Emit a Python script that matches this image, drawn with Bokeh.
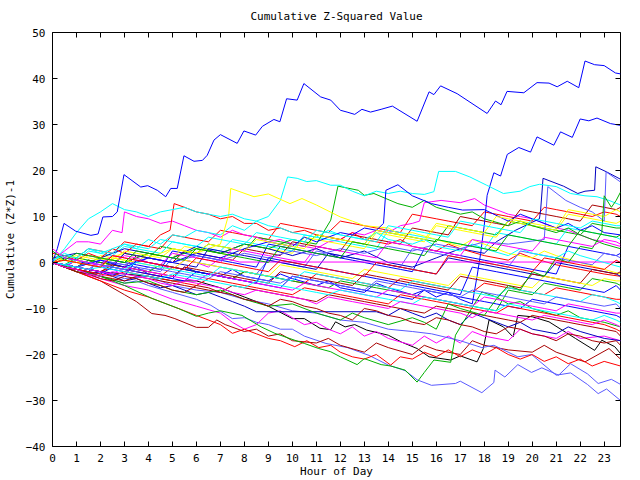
from bokeh.plotting import figure
from bokeh.models import Range1d, FixedTicker, LinearAxis, CustomJSTickFormatter
from bokeh.embed import file_html
from bokeh.resources import INLINE

TITLE = "Cumulative Z-Squared Value"
X_LABEL = "Hour of Day"
Y_LABEL = "Cumulative (Z*Z)-1"
X_TICKS = list(range(24))
Y_TICKS = list(range(-40, 51, 10))
X_END = 23.68

RED = "#ff0000"
GREEN = "#00b000"
BLUE = "#0000ff"
MAG = "#ff00ff"
CYAN = "#00ffff"
DRED = "#a80000"
YEL = "#ffff00"
BLACK = "#000000"
LBLUE = "#5a5aff"
DBLUE = "#0000c0"

# ---- individually traced series: (hour, value) vertices ----
line_a = [(0, 0), (0.2, 3), (0.48, 8.5), (0.97, 6.8), (1.6, 5.9), (1.9, 6.2), (2.1, 9.9), (2.5, 10), (2.7, 11),
          (2.98, 19.1), (3.68, 16.4), (3.97, 16.7), (4.37, 15.7), (4.72, 14.3), (4.93, 16.1), (5.2, 16.1),
          (5.48, 23.2), (5.9, 22.0), (6.25, 22.2), (6.45, 23.3), (6.73, 26.6), (7.0, 27.8), (7.7, 25.9),
          (7.98, 28.6), (8.47, 27.7), (8.75, 29.6), (9.23, 31.1), (9.48, 30.6), (9.76, 35.6), (10.2, 35.3),
          (10.48, 38.9), (11.18, 36.0), (11.6, 35.3), (12.0, 33.1), (12.28, 32.7), (12.6, 32.2), (12.9, 33.3),
          (13.26, 32.7), (13.7, 33.3), (14.17, 34.0), (15.2, 30.7), (15.7, 37.1), (15.9, 36.5), (16.18, 38.4),
          (16.87, 36.7), (18.12, 32.4), (18.47, 35.1), (18.7, 34.3), (18.95, 37.2), (19.65, 36.9), (20.2, 39.1),
          (20.7, 39.0), (21.04, 38.2), (21.46, 39.4), (21.94, 38.0), (22.2, 43.8), (22.6, 43.0), (23.0, 42.8),
          (23.47, 41.2), (23.68, 41.0)]
line_b = [(0, 0), (0.5, -1), (1, 0.5), (1.5, -0.5), (2, -1), (3, -2), (3.5, -1), (4, -2.5), (5, -3.5), (5.5, -1),
          (6, -2), (7, -3), (7.5, -1.5), (8, -3), (9, -4), (9.5, -2.5), (10, -3.5), (11, -5), (11.5, -4),
          (12, -5.5), (13, -6.5), (13.5, -4.5), (14, -5.5), (15, -7), (15.5, -6), (16, -7.5), (16.5, -6.5),
          (17, -8), (17.5, -9), (17.7, -3), (17.85, 2), (18.0, 8.1), (18.12, 14.6), (18.4, 19.5), (18.68, 18.8),
          (18.96, 23.5), (19.44, 25.0), (19.93, 24.0), (20.2, 27.3), (20.9, 25.5), (21.18, 28.4), (21.67, 27.2),
          (22.0, 31.2), (22.36, 30.8), (22.7, 31.4), (23.26, 30.2), (23.68, 29.8)]
line_c = [(0, 1), (1, 2), (2, 1), (3, 3), (4, 2), (5, 1), (6, 3.5), (7, 2), (8, 4), (9, 3), (10, 1.5), (11, 3),
          (12, 1), (13, 2.5), (14, 0), (15, -1), (16, 1), (17, 3), (18, 2), (18.5, 4.5), (19.3, 7), (20.3, 9.5),
          (20.35, 11.4), (20.45, 18.3), (21.3, 16.6), (21.9, 15), (22.2, 15.5), (22.6, 15.7), (22.65, 20.8),
          (23.1, 19.7), (23.68, 18.1)]
line_d = [(0, 0), (1, -1), (2, 0.5), (3, -0.5), (4, 1), (5, 0), (6, 1.5), (7, 0.5), (8, 2), (9, 1), (10, 2.5),
          (11, 1.5), (12, 3), (13, 2), (14, 3.5), (15, 2.5), (16, 4), (17, 3), (18, 4.5), (19, 4), (20.5, 5),
          (20.65, 16.5), (21.4, 13.5), (22, 12), (22.5, 11), (23.0, 9), (23.08, 19.7), (23.68, 17.5)]
line_e = [(0, 0.5), (0.5, 2), (1, 1), (1.5, 3), (2, 2), (3, 4), (3.5, 3), (4, 5), (4.5, 4), (5, 6), (5.5, 5.5),
          (6, 7), (7, 6), (7.5, 8), (8, 7), (8.5, 9), (9, 10), (9.5, 13.5), (9.8, 18.6), (10.2, 18.3), (10.6, 17.6),
          (11.0, 17.8), (11.6, 16.8), (12, 16.8), (12.5, 15.5), (13, 14.5), (13.5, 15.5), (14, 15), (14.5, 15.5),
          (15, 15), (15.5, 14.8), (15.9, 15.4), (16.1, 19.8), (16.8, 19.8), (17.4, 18.6), (18.1, 16.8),
          (18.8, 15.0), (19.5, 15.5), (19.9, 16.5), (20.3, 17.0), (21.0, 16.5), (21.6, 15.0), (22.2, 14.5),
          (22.7, 14.3), (23.2, 13.5), (23.68, 12.5)]
line_f = [(0, 0), (0.5, 3), (1, 6.5), (1.5, 9.5), (2, 11), (2.5, 12.8), (3, 11.5), (3.5, 11), (4, 10), (4.5, 11),
          (5, 11.5), (5.5, 12), (6, 11), (6.5, 10.5), (7, 10), (7.5, 10.5), (8, 9.5), (8.5, 9), (9, 8), (9.5, 7.5),
          (10, 6.5), (11, 5.5), (11.5, 7), (12, 6), (13, 5), (13.5, 6.5), (14, 5), (15, 4), (15.5, 5), (16, 3.5),
          (17, 2.5), (17.5, 4), (18, 3), (19, 1.5), (19.5, 3), (20, 2), (21, 1), (21.5, 2.5), (22, 1.5), (23, 0),
          (23.68, -1)]
line_g1 = [(0, 0), (1, -1), (2, 1), (3, 0), (4, 2), (5, 1), (6, 3), (7, 2), (8, 4), (9, 3), (10, 5), (11, 4),
           (11.6, 9.2), (11.9, 16.6), (12.75, 15.7), (13.0, 14.6), (13.4, 15.0), (14.4, 12.8), (15, 12),
           (15.5, 13.5), (16, 12), (17, 10.5), (17.5, 11), (18, 9.5), (19, 8), (19.5, 9), (20, 8), (21, 6.5),
           (21.5, 7.5), (22, 6), (23, 4), (23.68, 3)]
line_g2 = [(0, 0), (1, -2), (2, -3), (3, -4.5), (4, -4), (5, -6), (6, -7), (7, -6), (8, -8), (9, -9.5), (10, -9),
           (11, -11), (12, -12.5), (12.5, -11), (13, -12), (14, -13.5), (15, -12), (15.5, -13), (16, -14.5),
           (16.5, -9), (17, -10), (18, -11.5), (18.5, -8), (19, -5), (19.5, -6), (20, -2), (20.5, -3), (21, 1),
           (21.5, 0), (22, 3.5), (22.5, 3), (22.9, 6.5), (23.0, 14.5), (23.3, 12), (23.5, 13.5), (23.68, 15.3)]
line_y1 = [(0, 0), (1, 1.5), (2, 0.5), (3, 2), (4, 1), (5, 3), (6, 2), (7, 4), (7.35, 10.5), (7.43, 16.1),
           (8.4, 14.3), (9.0, 14.9), (9.9, 12.8), (10.4, 13.9), (11.0, 12.5), (12.0, 9.9), (12.5, 9), (13, 8),
           (14, 7.5), (14.5, 6), (15, 6.5), (16, 5), (17, 3.5), (17.5, 5), (18, 4), (19, 2), (20, 1), (20.5, 2.5),
           (21, 1.5), (22, 0), (23, -1.5), (23.68, -2.5)]
line_h = [(0, 0), (1, -1), (2, 0.5), (3, -1), (4, 1), (5, 0), (6, 2), (7, 1), (8, 3), (9, 4.5), (10, 3.5),
          (10.5, 5.5), (11, 4.5), (12, 6.5), (12.5, 6), (13, 7.5), (13.5, 7), (13.8, 8.5), (13.9, 15.7),
          (14.4, 16.9), (15, 14.5), (15.8, 12.8), (16.5, 12), (17.1, 11.4), (18, 11.5), (19, 9), (19.5, 10.5),
          (20, 9.5), (21, 7.5), (21.5, 8.5), (22, 7), (22.5, 8), (23, 6.5), (23.68, 6)]
line_r1 = [(0, 0), (0.5, 1.5), (1, 0.5), (1.5, 2), (2, 1), (2.5, 3), (3, 2), (3.5, 4), (4, 3.5), (4.5, 6), (4.9, 7),
           (5.07, 12.8), (5.5, 12), (6, 11), (6.5, 10.5), (7, 9.5), (7.5, 10), (8, 8.5), (8.5, 8.5), (9, 7),
           (9.5, 7.5), (10, 6.5), (10.5, 7), (11, 6), (12, 5), (12.5, 6.5), (13, 5), (14, 4), (14.5, 5), (15, 3.5),
           (16, 2.5), (16.5, 4), (17, 3), (18, 1.5), (19, 0.5), (19.5, 2), (20, 1), (21, -0.5), (22, -1.5),
           (23, -2.5), (23.68, -3)]
line_lb1 = [(0, 0), (0.5, -1), (1, -1.5), (2, -3), (3, -4.5), (3.5, -4), (4, -5), (5, -6.5), (6, -8), (6.6, -9.3),
            (7.5, -12.2), (8, -12), (8.5, -13), (9, -13.5), (9.5, -14.5), (10, -14.5), (10.5, -16), (11.4, -17.6),
            (12.3, -18.5), (13.2, -20.2), (14.0, -22.3), (14.7, -23.5), (15.2, -25.5), (15.8, -26.7),
            (16.8, -26.3), (17.0, -25.8), (17.9, -28.3), (18.4, -26.1), (18.45, -23.4), (18.86, -24.9),
            (19.4, -22.2), (19.97, -23.9), (20.4, -22.9), (21.1, -24.5), (21.6, -22.0), (22.3, -24.2),
            (22.75, -26.3), (23.3, -25.4), (23.68, -26.5)]
line_lb2 = [(0, 0), (1, -1), (2, -2), (3, -3.5), (4, -3), (5, -5), (6, -6), (7, -6.5), (8, -8), (9, -9),
            (10, -10.5), (11, -11), (12, -12.5), (13, -13), (14, -14.5), (15, -15), (15.8, -15.5), (17, -17),
            (17.9, -18.5), (18.4, -18), (19.4, -20.5), (19.97, -20), (21, -24.5), (21.6, -24), (22.3, -26.5),
            (22.75, -28.5), (23.1, -27.5), (23.68, -30)]
line_k = [(0, 0), (2, -2), (4, -3), (5, -4), (6, -4), (7, -5.5), (8, -7.5), (9, -9.5), (10, -12.2), (10.5, -12.2),
          (11.15, -14.3), (11.6, -14.6), (11.8, -12.9), (12.2, -14.0), (12.6, -13.5), (13.1, -14.7), (14, -15.8),
          (14.55, -17.3), (15.2, -18.7), (15.7, -20.5), (16.6, -21.2), (17.0, -20.3), (17.7, -21.6),
          (17.96, -18.7), (18.2, -12.5), (18.8, -14.0), (19.2, -16.2), (19.4, -11.5), (20, -11.8), (20.7, -12.9),
          (21.8, -16.5), (22.6, -19.1), (22.9, -16.9), (23.44, -18.3), (23.68, -19.8)]
line_g3 = [(0, 0), (1, -1.5), (2, -3), (3, -5), (4.14, -7.8), (5.25, -10.0), (6.0, -11.7), (6.5, -11), (7, -10.5),
           (7.9, -11.5), (8.7, -14), (9.27, -15.4), (10.1, -16.9), (10.5, -17.6), (11.1, -18.7), (11.6, -19.4),
           (12.0, -20.5), (12.7, -22.2), (13.0, -20.9), (13.7, -22.2), (14.1, -22.5), (14.7, -23.4), (15.2, -26.0),
           (15.5, -23.9), (15.9, -21.2), (16.6, -21.7), (16.8, -15.8), (17.05, -13.6), (17.9, -6.4), (18.5, -7.5),
           (19, -9), (19.5, -8.5), (20, -10), (21, -11.5), (21.5, -10.5), (22, -12), (23, -13), (23.68, -14)]
line_dr1 = [(0, 0), (1, -2), (2, -4), (3, -7), (3.5, -8.5), (4.14, -11.1), (4.69, -11.5), (5.1, -12.2),
            (6.0, -14.1), (6.5, -14.1), (6.85, -12.5), (7.2, -13.5), (8, -15), (8.5, -14.5), (9, -16), (9.5, -15.5),
            (10, -17), (11, -17.5), (11.5, -16.5), (12, -18), (13, -19.5), (13.5, -17.5), (14, -18.5), (15, -20),
            (15.5, -18), (16, -19), (17, -20), (17.5, -17), (18, -18), (19, -19), (20, -19.5), (20.5, -18),
            (21, -19.5), (22.2, -21.6), (23.2, -18.7), (23.68, -21)]
line_r2 = [(0, 0), (1, -2), (2, -4), (3, -6), (4, -7.5), (5, -9.5), (6, -11.5), (7, -13.5), (7.5, -15.4),
           (8, -14.5), (8.5, -15.5), (9, -16.5), (9.5, -17), (10.1, -18.3), (10.6, -17), (11.1, -18.5), (11.6, -18),
           (12, -19.5), (12.5, -20.5), (13, -21), (13.5, -20), (14.1, -22.3), (14.5, -20.5), (15, -21),
           (15.5, -19.5), (16, -20.5), (16.5, -19), (17, -20.5), (17.5, -19), (18, -20), (18.5, -18.5), (19, -20),
           (19.5, -21), (20, -20), (20.5, -21.5), (21, -20.5), (21.5, -22), (22, -21), (22.5, -22.5), (23, -21.5),
           (23.68, -22.5)]
line_m1 = [(0, 0), (1, -2), (2, -3.5), (3, -5), (4, -6), (5, -8), (6, -9.5), (7, -11), (7.5, -13), (8, -14.5),
           (8.5, -13.5), (9, -11), (9.5, -10.5), (10, -12), (10.5, -13.5), (11, -13), (11.5, -14.5), (12, -15.5),
           (12.5, -14), (13, -16), (13.5, -15), (14, -16.5), (15, -18), (15.5, -16), (16, -17.5), (16.5, -16),
           (17, -17.5), (17.5, -15), (18, -16), (19, -17), (19.5, -14.5), (20, -15.5), (21, -16.5), (21.5, -15),
           (22, -16.5), (23, -16), (23.68, -17)]
line_m2 = [(0, 0), (0.5, -1), (1, 0.5), (1.5, 0), (2, -1), (2.5, -0.5), (3, 1.5), (3.5, 1), (4, 0), (4.5, -0.5),
           (5, -1.5), (5.5, 0.5), (6, 0), (6.5, -1), (7, 1), (7.5, 0.5), (7.8, 0.1), (23.68, 0.1)]
line_m3 = [(0, 0.5), (0.5, 2.5), (1, 4.5), (1.5, 4.5), (2, 4), (2.5, 7), (2.9, 6.5), (3.0, 11), (3.5, 10),
           (4, 9.5), (4.5, 8.5), (5, 9), (5.5, 8), (6, 7), (6.5, 6.5), (7, 5.5), (7.5, 7), (8, 6), (8.5, 5.5),
           (9, 4.5), (9.5, 5), (10, 4), (11, 3), (11.5, 4.5), (12, 5), (12.5, 6.5), (13, 6), (13.5, 7), (14, 6.5),
           (14.5, 8), (15, 8.5), (15.3, 9), (15.5, 13), (16.2, 13.5), (17, 13), (17.6, 13.9), (18, 12.5),
           (18.5, 11.5), (19, 10.5), (19.5, 10), (20, 9.5), (20.5, 8.5), (21, 7.5), (21.5, 7), (22, 6), (22.5, 5),
           (23, 4.5), (23.68, 3.5)]
line_db = [(0, 0), (0.5, -1), (1, -1.5), (1.5, -2.5), (2, -2), (2.5, -3), (3, -4), (3.5, -3.5), (4, -4.5),
           (4.5, -5.5), (5, -5), (5.5, -6), (6, -7), (6.5, -6.5), (7, -7.5), (7.5, -8.5), (8, -9.5), (8.5, -10.7),
           (13.5, -10.7), (14, -11.5), (14.5, -10), (15, -11), (15.5, -12), (16, -11), (16.5, -12.5), (17, -13.5),
           (17.5, -11), (18, -12), (18.5, -13), (19, -14), (19.5, -13), (20, -14.5), (21, -15.5), (21.5, -14),
           (22, -15), (23, -16.5), (23.68, -17)]

# ---- half-hourly series (hours 0, 0.5, ... 23.5, then the last sample) ----
HALF_HOURS = [i / 2 for i in range(48)] + [X_END]
s01 = [2, 1.5, 1, 3, 2.5, 2, 4.5, 4, 3.5, 3, 6, 5.5, 5, 4.5, 7, 6.5, 6, 5.5, 5, 8.5, 8, 7.5, 7, 6.5, 9, 8.5, 8, 7.5, 7, 6.5,
       10.5, 10, 9.5, 9, 8.5, 8, 11, 10.5, 10, 9.5, 9, 12, 11.5, 11, 10.5, 10, 11, 10.5, 10]
s02 = [0, -0.5, 1, 0.5, 0, -0.5, 2, 1.5, 1, 3.5, 3, 2.5, 2, 4, 3.5, 3, 2.5, 5.5, 5, 4.5, 4, 3.5, 6, 5.5, 5, 4.5, 4, 7, 6.5, 6,
       5.5, 5, 4.5, 8, 7.5, 7, 6.5, 6, 9, 8.5, 8, 7.5, 7, 6.5, 6, 8.5, 8, 7.5, 7.5]
s03 = [0.5, -1, -1.5, -2, 1, 0.5, 0, -0.5, -1, -1.5, 2.5, 2, 1.5, 1, 0.5, 0, -0.5, -1, 4, 3.5, 3, 2.5, 2, 1.5, 1, 0.5, 0,
       -0.5, -1, -1.5, -2, 3, 2.5, 2, 1.5, 1, 0.5, 0, -0.5, -1, -1.5, -2, -2.5, 3.5, 3, 2.5, 2, 1.5, 2]
s05 = [1, 1, 0.5, 2.5, 2, 1.5, 3.5, 3, 2.5, 2, 4.5, 4, 3.5, 3, 2.5, 5, 4.5, 4, 3.5, 3, 2.5, 6, 5.5, 5, 4.5, 4, 3.5, 3, 7, 6.5,
       6, 5.5, 5, 4.5, 4, 3.5, 3, 6.5, 6, 5.5, 5, 4.5, 4, 7.5, 7, 6.5, 6, 5.5, 5]
s06 = [0, -0.5, -1, 0.5, 0, -0.5, -1, 1.5, 1, 0.5, 0, 2.5, 2, 1.5, 1, 0.5, 3, 2.5, 2, 1.5, 4.5, 4, 3.5, 3, 2.5, 6, 5.5, 5,
       4.5, 4, 7.5, 7, 6.5, 6, 10, 9.5, 9, 8.5, 8, 11.5, 11, 10.5, 10, 9.5, 9, 12.5, 12, 11.5, 12]
s07 = [1.5, 0.5, 0, -0.5, 1.5, 1, 0.5, 0, 2, 1.5, 1, 3.5, 3, 2.5, 2, 1.5, 4, 3.5, 3, 2.5, 2, 5.5, 5, 4.5, 4, 3.5, 3, 6.5, 6,
       5.5, 5, 4.5, 8, 7.5, 7, 6.5, 6, 5.5, 9, 8.5, 8, 7.5, 7, 10.5, 10, 9.5, 9, 8.5, 9]
s08 = [0, -0.5, -1, -1.5, 0.5, 0, -0.5, -1, -1.5, -2, 1, 0.5, 0, -0.5, -1, -1.5, -2, -2.5, 0.5, 0, -0.5, -1, 2.5, 2, 1.5,
       1, 0.5, 0, -0.5, -1, 3, 2.5, 2, 1.5, 1, 0.5, 0, -0.5, -1, 2.5, 2, 1.5, 1, 0.5, 0, -0.5, 2, 1.5, 1]
s09 = [-0.5, 1, 0.5, 0, -0.5, -1, 2, 1.5, 1, 0.5, 0, -0.5, -1, 3, 2.5, 2, 1.5, 1, 0.5, 0, -0.5, -1, -1.5, 2, 1.5, 1, 0.5,
       0, -0.5, -1, -1.5, -2, -2.5, 1, 0.5, 0, -0.5, -1, -1.5, -2, -2.5, -3, 0, -0.5, -1, -1.5, -2, -2.5, -3]
s10 = [0, -0.5, -1, -1.5, -2, -1, -1.5, -2, -2.5, -3, -1, -1.5, -2, -2.5, -3, -3.5, -2, -2.5, -3, -3.5, -4, -4.5, -2.5,
       -3, -3.5, -4, -4.5, -5, -5.5, -3.5, -4, -4.5, -5, -5.5, -6, -6.5, -4.5, -5, -5.5, -6, -6.5, -7, -5.5, -6, -6.5,
       -7, -7.5, -8, -8]
s11 = [0, -0.5, -1, 0.5, 0, -0.5, -1, -1.5, -2, -0.5, -1, -1.5, -2, -2.5, -3, -3.5, -2, -2.5, -3, -3.5, -4, -4.5, -5,
       -5.5, -4, -4.5, -5, -5.5, -6, -6.5, -7, -7.5, -8, -8.5, -9, -9.5, -10, -10.5, -6, -6.5, -7, -4.5, -5, -5.5, -6,
       -3.5, -4, -4.5, -5]
s12 = [0, -1, -1.5, -2, -2.5, -1, -1.5, -2, -2.5, -3, -3.5, -4, -2, -2.5, -3, -3.5, -4, -4.5, -5, -5.5, -3, -3.5, -4,
       -4.5, -5, -5.5, -6, -6.5, -7, -7.5, -8, -6, -6.5, -7, -7.5, -8, -8.5, -9, -9.5, -10, -8, -8.5, -9, -9.5, -10,
       -10.5, -11, -11.5, -12]
s13 = [0, -0.5, -1, -1.5, -2, -2.5, -1, -1.5, -2, -2.5, -3, -3.5, -4, -2.5, -3, -3.5, -4, -4.5, -5, -5.5, -6, -4.5, -5,
       -5.5, -6, -6.5, -7, -7.5, -6, -6.5, -7, -7.5, -8, -8.5, -9, -9.5, -7.5, -8, -8.5, -9, -9.5, -10, -10.5, -9,
       -9.5, -10, -10.5, -11, -11]
s14 = [0, -0.5, 0.5, 0, -0.5, -1, -1.5, 0, -0.5, -1, -1.5, -2, -2.5, -3, -1, -1.5, -2, -2.5, -3, -3.5, -4, -2, -2.5, -3,
       -3.5, -4, -4.5, -5, -5.5, -6, -4, -4.5, -5, -5.5, -6, -6.5, -7, -7.5, -5.5, -6, -6.5, -7, -7.5, -8, -8.5, -7,
       -7.5, -8.5, -9]
s15 = [0, -0.5, -1, -1.5, -2, -0.5, -1, -1.5, -2, -2.5, -3, -1, -1.5, -2, -2.5, -3, -3.5, -4, -4.5, -2, -2.5, -3, -3.5,
       -4, -4.5, -5, -2.5, -3, -3.5, -4, -4.5, -5, -5.5, -6, -3, -3.5, -4, -4.5, -5, -5.5, -2.5, -3, -3.5, -4, -4.5,
       -1.5, -2, -2.5, -2]
s16 = [0, 0.5, 0, -0.5, -1, 1, 0.5, 0, -0.5, -1, -1.5, 0.5, 0, -0.5, -1, -1.5, -2, -2.5, -3, -0.5, -1, -1.5, -2, -2.5,
       -3, -3.5, -1.5, -2, -2.5, -3, -3.5, -4, -4.5, -5, -2.5, -3, -3.5, -4, -4.5, -5, -5.5, -3, -3.5, -4, -4.5, -5,
       -3.5, -4, -4]
s17 = [0, -1, -1.5, -2, -2.5, -3, -2, -2.5, -3, -3.5, -4, -4.5, -5, -3.5, -4, -4.5, -5, -5.5, -6, -6.5, -7, -5.5, -6,
       -6.5, -7, -7.5, -8, -8.5, -9, -7, -7.5, -8, -8.5, -9, -9.5, -10, -10.5, -11, -9.5, -10, -10.5, -11, -11.5, -12,
       -12.5, -13, -13.5, -14.5, -15]
s18 = [2.5, 0.5, 2, 1.5, 1, 0.5, 0, 2.5, 2, 1.5, 1, 0.5, 3, 2.5, 2, 1.5, 1, 0.5, 0, 3.5, 3, 2.5, 2, 1.5, 1, 4.5, 4, 3.5, 3,
       2.5, 2, 1.5, 5, 4.5, 4, 3.5, 3, 2.5, 6, 5.5, 5, 4.5, 4, 3.5, 7, 6.5, 6, 5.5, 6]
s19 = [0, -0.5, -1, -1.5, -2, -2.5, -3, 0.5, 0, -0.5, -1, -1.5, -2, -2.5, -3, -3.5, -4, -4.5, 1, 0.5, 0, -0.5, -1, -1.5,
       -2, -2.5, -3, -3.5, -4, -4.5, -5, -5.5, -6, -6.5, -7, -1, -1.5, -2, -2.5, -3, -3.5, -4, -4.5, -5, -5.5, -6,
       -6.5, -5, -6]
s20 = [3, 1, 0.5, 0, -0.5, 1.5, 1, 0.5, 0, -0.5, 2, 1.5, 1, 0.5, 0, 3, 2.5, 2, 1.5, 1, 0.5, 0, 3.5, 3, 2.5, 2, 1.5, 1,
       4.5, 4, 3.5, 3, 2.5, 2, 1.5, 5, 4.5, 4, 3.5, 3, 2.5, 5.5, 5, 4.5, 4, 3.5, 5, 4.5, 4]
s21 = [0, -0.5, -1, -1.5, -1, -1.5, -2, -2.5, -3, -3.5, -2.5, -3, -3.5, -4, -4.5, -5, -5.5, -4, -4.5, -5, -5.5, -6,
       -6.5, -7, -6, -6.5, -7, -7.5, -8, -8.5, -9, -7.5, -8, -8.5, -9, -9.5, -10, -10.5, -9, -9.5, -10, -10.5, -11,
       -11.5, -12, -12.5, -11.5, -12.5, -13]
s22 = [0, -1, -1.5, -2, -3, -3.5, -4, -3, -3.5, -4, -4.5, -5, -5.5, -6, -6.5, -5, -5.5, -6, -6.5, -7, -7.5, -8, -8.5,
       -7, -7.5, -8, -8.5, -9, -9.5, -10, -10.5, -11, -9.5, -10, -10.5, -11, -11.5, -12, -12.5, -13, -11.5, -12,
       -12.5, -13, -13.5, -14, -14.5, -15, -16]
s23 = [0, 0.5, 0, -0.5, -1, 1.5, 1, 0.5, 0, -0.5, -1, -1.5, 1, 0.5, 0, -0.5, -1, -1.5, -2, 0.5, 0, -0.5, -1, -1.5, -2,
       -2.5, -3, 0, -0.5, -1, -1.5, -2, -2.5, 1.5, 1, 0.5, 0, -0.5, -1, -1.5, -2, 1, 0.5, 0, -0.5, -1, -1.5, 0.5, 0]
s25 = [1, 0.5, 0, 1.5, 1, 0.5, 2.5, 2, 1.5, 1, 3, 2.5, 2, 4, 3.5, 3, 2.5, 5, 4.5, 4, 3.5, 3, 6, 5.5, 5, 4.5, 4, 7, 6.5, 6,
       5.5, 5, 8.5, 8, 7.5, 7, 6.5, 10, 9.5, 9, 8.5, 8, 7.5, 11.5, 11, 10.5, 10, 11.5, 11]
s26 = [0, -0.5, -1, 0, -0.5, -1, -1.5, -2, -1, -1.5, -2, -2.5, -3, -3.5, -2, -2.5, -3, -3.5, -4, -4.5, -3, -3.5, -4,
       -4.5, -5, -5.5, -6, -4, -4.5, -5, -5.5, -6, -6.5, -7, -7.5, -6, -6.5, -7, -7.5, -8, -8.5, -9, -7.5, -8, -8.5,
       -9, -9.5, -9, -10]
s27 = [0, -1, -1.5, -2.5, -3, -2, -2.5, -3, -3.5, -4.5, -5, -4, -4.5, -5, -5.5, -6.5, -7, -6, -6.5, -7, -7.5, -8, -9,
       -7.5, -8, -8.5, -9, -9.5, -10, -8.5, -9, -9.5, -10, -10.5, -11, -12, -10.5, -11, -11.5, -12, -12.5, -11.5, -12,
       -12.5, -13, -13.5, -12.5, -13.5, -14]
s28 = [0.5, 1.5, 1, 3, 2.5, 2, 4, 3.5, 3, 5, 4.5, 4, 3.5, 5.5, 5, 4.5, 4, 6.5, 6, 5.5, 5, 4.5, 7, 6.5, 6, 5.5, 5, 4.5, 8,
       7.5, 7, 6.5, 6, 5.5, 9, 8.5, 8, 7.5, 7, 6.5, 9.5, 9, 8.5, 8, 7.5, 9, 8.5, 8, 8]
s29 = [0, -1, -2, -2.5, -3.5, -4, -3, -3.5, -4.5, -5, -6, -6.5, -5, -5.5, -6.5, -7, -8, -8.5, -9.5, -8, -8.5, -9.5, -10,
       -11, -11.5, -12.5, -10, -10.5, -11.5, -12, -13, -13.5, -12, -12.5, -13.5, -14, -15, -15.5, -14, -14.5, -15.5,
       -16, -17, -15.5, -16, -17, -17.5, -17, -18]


def pts(vertices):
    return [h for h, _ in vertices], [v for _, v in vertices]


SERIES = [
    (HALF_HOURS, s01, RED), (HALF_HOURS, s02, GREEN), (HALF_HOURS, s03, BLUE), pts(line_m3) + (MAG,),
    (HALF_HOURS, s05, CYAN), (HALF_HOURS, s06, DRED), (HALF_HOURS, s07, YEL), pts(line_k) + (BLACK,),
    pts(line_lb1) + (LBLUE,), pts(line_c) + (DBLUE,),
    pts(line_r1) + (RED,), pts(line_g1) + (GREEN,), pts(line_b) + (BLUE,), pts(line_m1) + (MAG,),
    pts(line_e) + (CYAN,), pts(line_dr1) + (DRED,), pts(line_y1) + (YEL,), (HALF_HOURS, s08, LBLUE),
    pts(line_lb2) + (LBLUE,), (HALF_HOURS, s09, DBLUE),
    (HALF_HOURS, s10, RED), (HALF_HOURS, s11, GREEN), (HALF_HOURS, s12, BLUE), pts(line_m2) + (MAG,),
    pts(line_f) + (CYAN,), (HALF_HOURS, s15, DRED), (HALF_HOURS, s16, YEL), pts(line_d) + (LBLUE,),
    pts(line_h) + (BLUE,), pts(line_db) + (DBLUE,),
    pts(line_r2) + (RED,), pts(line_g3) + (GREEN,), (HALF_HOURS, s19, BLUE), (HALF_HOURS, s13, MAG),
    (HALF_HOURS, s14, CYAN), (HALF_HOURS, s22, DRED), (HALF_HOURS, s25, YEL), (HALF_HOURS, s26, LBLUE),
    (HALF_HOURS, s17, RED), pts(line_g2) + (GREEN,), pts(line_a) + (BLUE,), (HALF_HOURS, s20, MAG),
    (HALF_HOURS, s21, CYAN), (HALF_HOURS, s29, DRED), (HALF_HOURS, s23, RED), (HALF_HOURS, s18, GREEN),
    (HALF_HOURS, s27, MAG), (HALF_HOURS, s28, CYAN),
]

FONT = "DejaVu Sans Mono"

p = figure(width=640, height=480, output_backend="svg", toolbar_location=None,
           x_range=Range1d(0, X_END), y_range=Range1d(-40, 50),
           min_border_left=52, min_border_right=20, min_border_top=32, min_border_bottom=34)
p.title.text = TITLE
p.title.align = "center"
p.title.text_font = FONT
p.title.text_font_size = "11px"
p.title.text_font_style = "normal"
p.title.text_color = "black"
p.title.standoff = 15
p.title.vertical_align = "top"

for xs, ys, col in SERIES:
    p.line(xs, ys, line_color=col, line_width=1)

p.xgrid.visible = False
p.ygrid.visible = False
p.background_fill_color = "white"
p.border_fill_color = "white"
p.outline_line_color = "black"
p.outline_line_width = 1

p.xaxis.ticker = FixedTicker(ticks=X_TICKS)
p.yaxis.ticker = FixedTicker(ticks=Y_TICKS)
p.xaxis.axis_label = X_LABEL
p.yaxis.axis_label = Y_LABEL

for ax in (p.xaxis[0], p.yaxis[0]):
    ax.axis_line_color = None
    ax.major_tick_in = 5
    ax.major_tick_out = 0
    ax.minor_tick_line_color = None
    ax.major_label_text_font = FONT
    ax.major_label_text_font_size = "11px"
    ax.major_label_text_color = "black"
    ax.axis_label_text_font = FONT
    ax.axis_label_text_font_size = "11px"
    ax.axis_label_text_font_style = "normal"
    ax.axis_label_text_color = "black"
p.xaxis.major_label_standoff = 7
p.xaxis.axis_label_standoff = 0
p.yaxis.major_label_standoff = 7
p.yaxis.axis_label_standoff = 6

top_ax = LinearAxis(ticker=FixedTicker(ticks=X_TICKS), formatter=CustomJSTickFormatter(code="return '';"),
                    axis_line_color=None, major_tick_in=5, major_tick_out=0,
                    minor_tick_line_color=None, major_label_standoff=0)
right_ax = LinearAxis(ticker=FixedTicker(ticks=Y_TICKS), formatter=CustomJSTickFormatter(code="return '';"),
                      axis_line_color=None, major_tick_in=5, major_tick_out=0,
                      minor_tick_line_color=None, major_label_standoff=0)
p.add_layout(top_ax, "above")
p.add_layout(right_ax, "right")

open("out.html", "w").write(file_html(p, INLINE))
